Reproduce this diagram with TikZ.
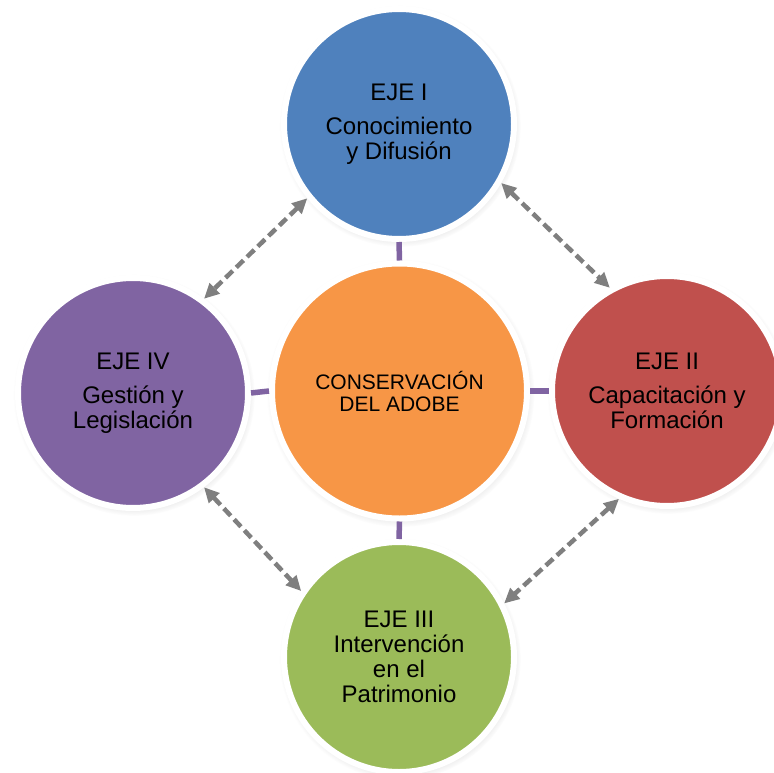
\documentclass[tikz,border=0pt]{standalone}
\usepackage{fontspec}
\setmainfont{Liberation Sans}
\usetikzlibrary{arrows.meta,shadows,fadings}
\definecolor{ejeblue}{HTML}{4F81BD}
\definecolor{ejered}{HTML}{C0504D}
\definecolor{ejegreen}{HTML}{9BBB59}
\definecolor{ejepurple}{HTML}{8064A2}
\definecolor{ejeorange}{HTML}{F79646}
\definecolor{linkpurple}{HTML}{8064A2}
\definecolor{relgray}{HTML}{7F7F7F}
\tikzset{
  ejebox/.style={circle, draw=white, line width=6pt, minimum size=230pt, inner sep=0pt,
    align=center, font=\fontsize{24}{25}\selectfont, text=black,
    circular drop shadow={shadow xshift=1pt, shadow yshift=-2pt, shadow scale=1.05, opacity=0.35}},
  corebox/.style={ejebox, minimum size=255pt, font=\fontsize{21}{22}\selectfont},
  linkline/.style={draw=linkpurple, line width=5.5pt},
  relline/.style={draw=relgray, line width=4.5pt, dash pattern=on 10pt off 5pt,
    {Triangle[length=15pt,width=14pt]}-{Triangle[length=15pt,width=14pt]}}
}
\begin{document}
\begin{tikzpicture}[x=1pt,y=-1pt]
\path[use as bounding box] (0,0) rectangle (773,773);
\node[ejebox, fill=ejeblue] (T) at (399,124) {EJE I\\[9pt]Conocimiento\\y Difusión};
\node[ejebox, fill=ejepurple] (L) at (133,393) {EJE IV\\[9pt]Gestión y\\Legislación};
\node[ejebox, fill=ejered] (R) at (667,391) {EJE II\\[9pt]Capacitación y\\Formación};
\node[ejebox, fill=ejegreen] (B) at (399,657) {EJE III\\Intervención\\en el\\Patrimonio};
\node[corebox, fill=ejeorange] (C) at (399.5,391) {CONSERVACIÓN\\DEL ADOBE};
\draw[linkline] (C.north) -- (T.south);
\draw[linkline] (C.west) -- (L.east);
\draw[linkline] (C.east) -- (R.west);
\draw[linkline] (C.south) -- (B.north);
\draw[relline] (T.219.6) -- (L.53.7);
\draw[relline] (T.330) -- (R.119.6);
\draw[relline] (L.307.7) -- (B.146.7);
\draw[relline] (R.246) -- (B.27.8);
\end{tikzpicture}
\end{document}
